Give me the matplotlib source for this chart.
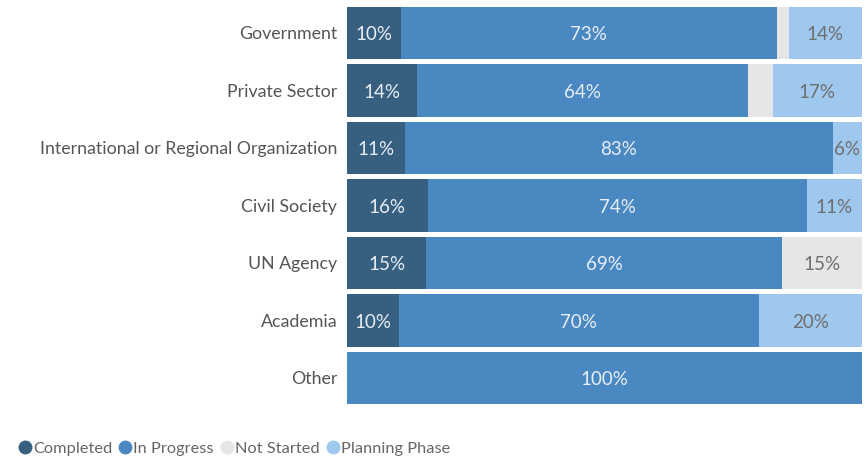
import numpy as np
import matplotlib.pyplot as plt
from matplotlib.lines import Line2D

plt.rcParams['font.family'] = ['Lato', 'DejaVu Sans']

categories = ["Government", "Private Sector", "International or Regional Organization",
              "Civil Society", "UN Agency", "Academia", "Other"]
series = ["Completed", "In Progress", "Not Started", "Planning Phase"]
completed = [10.4, 13.6, 11.3, 15.7, 15.4, 10.1, 0]
in_progress = [73.2, 64.3, 83.1, 73.6, 69.2, 69.9, 100]
not_started = [2.2, 4.8, 0, 0, 15.4, 0, 0]
planning = [14.2, 17.3, 5.6, 10.7, 0, 20.0, 0]

colors = ["#375f80", "#4a88c2", "#e6e6e6", "#9fc8ef"]
text_colors = ["#e8eef4", "#e8eef4", "#6e6e6e", "#6e6e6e"]

fig = plt.figure(figsize=(8.66, 4.57), dpi=100)
ax = fig.add_axes([0.4007, 0.11, 0.5943, 0.8807])

y = np.arange(len(categories))
left = np.zeros(len(categories))
for name, vals, c, tc in zip(series, [completed, in_progress, not_started, planning], colors, text_colors):
    vals = np.array(vals)
    ax.barh(y, vals, left=left, height=0.905, color=c, label=name)
    for yi, (l, v) in enumerate(zip(left, vals)):
        if v >= 5.5:
            ax.text(l + v / 2, yi + 0.03, f"{v:.0f}%", ha="center", va="center",
                    color=tc, fontsize=13.5)
    left += vals

ax.set_xlim(0, 100)
ax.set_ylim(len(categories) - 0.5, -0.5)
ax.set_yticks(y)
ax.set_yticklabels(categories, fontsize=12.8, color="#555555")
ax.tick_params(axis="y", length=0, pad=7)
ax.set_xticks([])
for s in ax.spines.values():
    s.set_visible(False)

handles = [Line2D([], [], marker="o", linestyle="", markersize=9, color=c) for c in colors]
fig.legend(handles, series, loc="lower left", bbox_to_anchor=(0.003, -0.03), ncol=4,
           frameon=False, handletextpad=0.05, columnspacing=0.35, handlelength=0.9,
           prop={"size": 11.8}, labelcolor="#666666")

fig.savefig("out.png", dpi=100)
